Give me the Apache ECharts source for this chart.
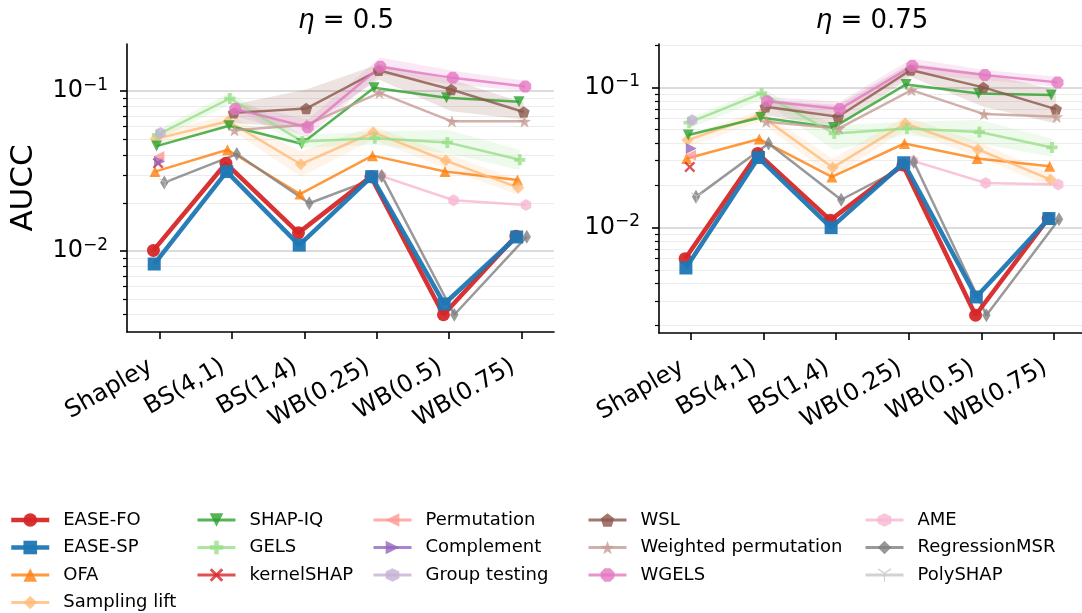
<!DOCTYPE html>
<html>
<head>
<meta charset="utf-8">
<script src="https://cdn.jsdelivr.net/npm/echarts@6/dist/echarts.min.js"></script>
<style>
html, body { margin: 0; padding: 0; background: #fff; }
#chart { width: 1082px; height: 613px; }
</style>
</head>
<body>
<div id="chart"></div>
<script>
var categories = ['Shapley', 'BS(4,1)', 'BS(1,4)', 'WB(0.25)', 'WB(0.5)', 'WB(0.75)'];
var majorTicks = [0.01, 0.1];
var minorTicks = [0.002, 0.003, 0.004, 0.005, 0.006, 0.007, 0.008, 0.009,
                  0.02, 0.03, 0.04, 0.05, 0.06, 0.07, 0.08, 0.09, 0.2];

// AUCC per method, eta = 0.5 (null = not run)
var easeFo05        = [0.0101, 0.0354, 0.0130, 0.0292, 0.0040, 0.0124];
var easeSp05        = [0.0083, 0.0314, 0.0109, 0.0292, 0.00467, 0.01225];
var ofa05           = [0.0314, 0.0430, 0.0227, 0.0395, 0.0314, 0.0278];
var samplingLift05  = [0.0503, 0.0648, 0.0349, 0.0552, 0.0368, 0.0249];
var shapIq05        = [0.0453, 0.0608, 0.0469, 0.105, 0.0908, 0.0857];
var gels05          = [0.0533, 0.0899, 0.0485, 0.0508, 0.0478, 0.0372];
var kernelShap05    = [0.0355, null, null, null, null, null];
var permutation05   = [0.0390, null, null, null, null, null];
var complement05    = [0.0363, null, null, null, null, null];
var groupTesting05  = [0.0547, null, null, null, null, null];
var wsl05           = [null, 0.0731, 0.0778, 0.135, 0.1024, 0.0741];
var wPermutation05  = [null, 0.0569, 0.0617, 0.0976, 0.0647, 0.0647];
var wgels05         = [null, 0.0774, 0.0594, 0.142, 0.121, 0.107];
var ame05           = [null, null, null, 0.0295, 0.0208, 0.0194];
var regressionMsr05 = [0.0268, 0.0404, 0.0199, 0.0295, 0.0040, 0.0123];
var polyShap05      = [0.0265, null, null, null, null, null];

// AUCC per method, eta = 0.75
var easeFo075        = [0.0060, 0.0338, 0.0113, 0.0280, 0.00237, 0.0116];
var easeSp075        = [0.00515, 0.0316, 0.0100, 0.0290, 0.0032, 0.0116];
var ofa075           = [0.0311, 0.0428, 0.0230, 0.0398, 0.0311, 0.0274];
var samplingLift075  = [0.0421, 0.0634, 0.0268, 0.0553, 0.0361, 0.0220];
var shapIq075        = [0.0457, 0.0610, 0.0518, 0.105, 0.0906, 0.0882];
var gels075          = [0.0560, 0.0906, 0.0469, 0.0510, 0.0480, 0.0373];
var kernelShap075    = [0.0271, null, null, null, null, null];
var permutation075   = [0.0328, null, null, null, null, null];
var complement075    = [0.0366, null, null, null, null, null];
var groupTesting075  = [0.0583, null, null, null, null, null];
var wsl075           = [null, 0.0727, 0.0617, 0.133, 0.100, 0.070];
var wPermutation075  = [null, 0.0569, 0.0510, 0.0957, 0.0645, 0.0617];
var wgels075         = [null, 0.0798, 0.070, 0.142, 0.1225, 0.1086];
var ame075           = [null, null, null, 0.0299, 0.0208, 0.0203];
var regressionMsr075 = [0.01656, 0.0398, 0.0158, 0.0294, 0.00237, 0.01148];
var polyShap075      = [0.0165, null, null, null, null, null];

// shaded spread (low / high) for the methods where it is visible
var samplingLiftLo05 = [0.0462, 0.0588, 0.0292, 0.0497, 0.0330, 0.0224];
var samplingLiftHi05 = [0.0547, 0.0713, 0.0420, 0.0603, 0.0410, 0.0278];
var gelsLo05         = [0.0497, 0.0824, 0.0441, 0.0462, 0.0409, 0.0321];
var gelsHi05         = [0.0574, 0.0976, 0.0534, 0.0560, 0.0574, 0.0430];
var wslLo05          = [null, 0.0633, 0.0588, 0.118, 0.0749, 0.0664];
var wslHi05          = [null, 0.0824, 0.1024, 0.147, 0.118, 0.0845];
var wgelsLo05        = [null, 0.0697, 0.0521, 0.127, 0.110, 0.100];
var wgelsHi05        = [null, 0.0845, 0.0664, 0.162, 0.134, 0.116];

var samplingLiftLo075 = [0.0377, 0.0569, 0.0230, 0.0496, 0.0320, 0.0195];
var samplingLiftHi075 = [0.0457, 0.0689, 0.0311, 0.0617, 0.0409, 0.0243];
var gelsLo075         = [0.0510, 0.0812, 0.0357, 0.0457, 0.0398, 0.0320];
var gelsHi075         = [0.0600, 0.0984, 0.0538, 0.0568, 0.0585, 0.0432];
var wslLo075          = [null, 0.0634, 0.0524, 0.119, 0.0727, 0.0553];
var wslHi075          = [null, 0.0812, 0.0748, 0.148, 0.126, 0.0957];
var wgelsLo075        = [null, 0.0727, 0.0634, 0.126, 0.113, 0.101];
var wgelsHi075        = [null, 0.0858, 0.0790, 0.161, 0.133, 0.119];

// marker paths (matplotlib-like)
function polyPath(pts) {
    return 'path://M' + pts.map(function (p) { return p[0].toFixed(1) + ',' + p[1].toFixed(1); }).join('L') + 'Z';
}
function regular(n, startDeg, rIn) {
    var pts = [];
    var k = rIn ? 2 * n : n;
    for (var i = 0; i < k; i++) {
        var r = (rIn && i % 2) ? rIn : 50;
        var a = (startDeg + i * 360 / k) * Math.PI / 180;
        pts.push([50 + r * Math.cos(a), 50 + r * Math.sin(a)]);
    }
    return polyPath(pts);
}
var SYM = {
    triDown: 'path://M0,0L100,0L50,100Z',
    triLeft: 'path://M0,50L100,0L100,100Z',
    triRight: 'path://M100,50L0,0L0,100Z',
    plus: 'path://M33,0L67,0L67,33L100,33L100,67L67,67L67,100L33,100L33,67L0,67L0,33L33,33Z',
    cross: 'path://M15,0L50,35L85,0L100,15L65,50L100,85L85,100L50,65L15,100L0,85L35,50L0,15Z',
    hexagon: regular(6, -90),
    pentagon: regular(5, -90),
    star: regular(5, -90, 20),
    octagon: regular(8, 22.5),
    thinDiamond: 'path://M30,0L60,50L30,100L0,50Z',
    triY: 'path://M46,57L46,100L54,100L54,57L95,34L91,27L50,50L9,27L5,34Z'
};

var methods = [
    { name: 'EASE-FO', color: '#d62728', symbol: 'circle', size: 13, width: 4.5, z: 5, a: easeFo05, b: easeFo075 },
    { name: 'EASE-SP', color: '#1f77b4', symbol: 'rect', size: 13, width: 4.5, z: 6, a: easeSp05, b: easeSp075 },
    { name: 'OFA', color: '#ff7f0e', symbol: 'triangle', size: 11, a: ofa05, b: ofa075 },
    { name: 'Sampling lift', color: '#ffbb78', symbol: 'diamond', size: 12, a: samplingLift05, b: samplingLift075,
      band: { a: [samplingLiftLo05, samplingLiftHi05], b: [samplingLiftLo075, samplingLiftHi075] } },
    { name: 'SHAP-IQ', color: '#2ca02c', symbol: SYM.triDown, size: 11, a: shapIq05, b: shapIq075 },
    { name: 'GELS', color: '#98df8a', symbol: SYM.plus, size: 11, a: gels05, b: gels075,
      band: { a: [gelsLo05, gelsHi05], b: [gelsLo075, gelsHi075] } },
    { name: 'kernelSHAP', color: '#d62728', symbol: SYM.cross, size: 11, a: kernelShap05, b: kernelShap075 },
    { name: 'Permutation', color: '#ff9896', symbol: SYM.triLeft, size: 11, a: permutation05, b: permutation075 },
    { name: 'Complement', color: '#9467bd', symbol: SYM.triRight, size: 11, a: complement05, b: complement075 },
    { name: 'Group testing', color: '#c5b0d5', symbol: SYM.hexagon, size: 12, a: groupTesting05, b: groupTesting075 },
    { name: 'WSL', color: '#8c564b', symbol: SYM.pentagon, size: 12, a: wsl05, b: wsl075,
      band: { a: [wslLo05, wslHi05], b: [wslLo075, wslHi075] } },
    { name: 'Weighted permutation', color: '#c49c94', symbol: SYM.star, size: 13, a: wPermutation05, b: wPermutation075 },
    { name: 'WGELS', color: '#e377c2', symbol: SYM.octagon, size: 12, a: wgels05, b: wgels075,
      band: { a: [wgelsLo05, wgelsHi05], b: [wgelsLo075, wgelsHi075] } },
    { name: 'AME', color: '#f7b6d2', symbol: SYM.hexagon, size: 12, a: ame05, b: ame075 },
    { name: 'RegressionMSR', color: '#7f7f7f', symbol: SYM.thinDiamond, size: 14, a: regressionMsr05, b: regressionMsr075 },
    { name: 'PolySHAP', color: '#c7c7c7', symbol: SYM.triY, size: 12, a: polyShap05, b: polyShap075 }
];

var panels = [
    { title: '{i|η} = 0.5', key: 'a', grid: { left: 127, top: 44, width: 427, height: 288 }, xMin: -0.445, xMax: 5.445, yMin: 0.00312, yMax: 0.197, titleX: 341 },
    { title: '{i|η} = 0.75', key: 'b', grid: { left: 659, top: 44, width: 423, height: 289 }, xMin: -0.44, xMax: 5.386, yMin: 0.00177, yMax: 0.204, titleX: 867 }
];

function supLabel(v) {
    var e = Math.round(Math.log(v) / Math.LN10);
    return '10{sup|\u2212' + Math.abs(e) + '}';
}

function bandSeries(pi, m, lo, hi, dodge) {
    return {
        type: 'custom', xAxisIndex: pi, yAxisIndex: pi * 2, silent: true, z: 1,
        data: [[0, 0.05]],
        clip: true,
        renderItem: function (params, api) {
            var top = [], bottom = [];
            for (var i = 0; i < hi.length; i++) {
                if (hi[i] == null) continue;
                top.push(api.coord([i + dodge, hi[i]]));
                bottom.unshift(api.coord([i + dodge, lo[i]]));
            }
            return {
                type: 'polygon',
                shape: { points: top.concat(bottom) },
                style: { fill: m.color, opacity: 0.16 }
            };
        }
    };
}

var grids = [], xAxes = [], yAxes = [], titles = [], series = [];
panels.forEach(function (p, pi) {
    grids.push(p.grid);
    titles.push({
        text: p.title, left: p.titleX, top: 3, textAlign: 'center',
        textStyle: { fontSize: 26, fontWeight: 'normal', color: '#000', fontFamily: 'DejaVu Sans',
            rich: { i: { fontSize: 26, fontStyle: 'italic', fontFamily: 'DejaVu Sans' } } }
    });
    xAxes.push({
        gridIndex: pi, type: 'value', min: p.xMin, max: p.xMax,
        axisLine: { show: true, onZero: false, lineStyle: { color: '#000', width: 1.6 } },
        axisTick: { show: true, customValues: [0, 1, 2, 3, 4, 5], length: 7, lineStyle: { color: '#000', width: 1.6 } },
        axisLabel: {
            customValues: [0, 1, 2, 3, 4, 5], rotate: 30, margin: 28, fontSize: 24, color: '#000',
            padding: [0, 10, 0, 0],
            formatter: function (v) { return categories[Math.round(v)]; }
        },
        splitLine: { show: false }
    });
    var minors = minorTicks.filter(function (v) { return v > p.yMin && v < p.yMax; });
    yAxes.push({
        gridIndex: pi, type: 'log', logBase: 10, min: p.yMin, max: p.yMax, position: 'left',
        name: pi === 0 ? 'AUCC' : '', nameLocation: 'middle', nameGap: 88,
        nameTextStyle: { fontSize: 31, color: '#000' },
        axisLine: { show: true, onZero: false, lineStyle: { color: '#000', width: 1.6 } },
        axisTick: { show: true, customValues: majorTicks, length: 7, lineStyle: { color: '#000', width: 1.6 } },
        axisLabel: {
            customValues: majorTicks, margin: 19, fontSize: 24, color: '#000', formatter: supLabel,
            rich: { sup: { fontSize: 17, color: '#000', padding: [0, 0, 12, 0] } }
        },
        splitLine: { show: true, lineStyle: { color: '#d0d0d0', width: 1.5 } }
    });
    yAxes.push({
        gridIndex: pi, type: 'log', logBase: 10, min: p.yMin, max: p.yMax, position: 'left',
        axisLine: { show: false, onZero: false },
        axisTick: { show: true, customValues: minors, length: 4, lineStyle: { color: '#000', width: 1.2 } },
        axisLabel: { show: false },
        splitLine: { show: true, lineStyle: { color: '#ececec', width: 1.2 } }
    });

    methods.forEach(function (m, mi) {
        var dodge = (mi - 7.5) * 0.0107;
        var vals = m[p.key];
        var pts = [];
        vals.forEach(function (v, ci) {
            if (v != null) pts.push([ci + dodge, v]);
        });
        if (m.band) {
            series.push(bandSeries(pi, m, m.band[p.key][0], m.band[p.key][1], dodge));
        }
        var ease = mi < 2;
        series.push({
            type: 'line', name: m.name, xAxisIndex: pi, yAxisIndex: pi * 2,
            data: pts, symbol: m.symbol, symbolSize: m.size, symbolKeepAspect: true,
            showSymbol: true, showAllSymbol: true,
            lineStyle: { color: m.color, width: m.width || 2.5, opacity: ease ? 0.95 : 0.8 },
            itemStyle: { color: m.color, opacity: ease ? 0.95 : 0.8 },
            z: m.z || 2, animation: false, silent: true,
            emphasis: { disabled: true }
        });
    });
});

var legendCols = [
    { left: 9, names: ['EASE-FO', 'EASE-SP', 'OFA', 'Sampling lift'] },
    { left: 196, names: ['SHAP-IQ', 'GELS', 'kernelSHAP'] },
    { left: 372, names: ['Permutation', 'Complement', 'Group testing'] },
    { left: 587, names: ['WSL', 'Weighted permutation', 'WGELS'] },
    { left: 864, names: ['AME', 'RegressionMSR', 'PolySHAP'] }
];
var legends = legendCols.map(function (c) {
    return {
        data: c.names.map(function (n) {
            var m = methods.filter(function (mm) { return mm.name === n; })[0];
            return { name: n, lineStyle: { width: m.width ? 4.5 : 3, opacity: m.width ? 0.95 : 0.8 } };
        }),
        orient: 'vertical', left: c.left, top: 510, padding: 0, height: 110,
        itemWidth: 38, itemHeight: 17, itemGap: 7.5, selectedMode: false,
        textStyle: { fontSize: 18, color: '#000', lineHeight: 20, padding: [0, 0, 0, 9] }
    };
});

var chart = echarts.init(document.getElementById('chart'), null, { renderer: 'canvas' });
chart.setOption({
    backgroundColor: '#fff',
    animation: false,
    textStyle: { fontFamily: 'DejaVu Sans' },
    title: titles,
    legend: legends,
    grid: grids,
    xAxis: xAxes,
    yAxis: yAxes,
    series: series
});
</script>
</body>
</html>
